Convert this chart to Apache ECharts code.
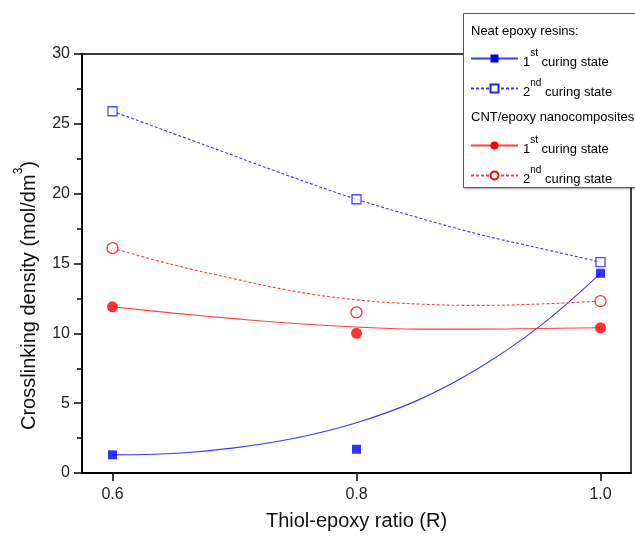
<!DOCTYPE html>
<html>
<head>
<meta charset="utf-8">
<script src="https://cdn.jsdelivr.net/npm/echarts@6/dist/echarts.min.js"></script>
<style>
  html, body { margin: 0; padding: 0; background: #fff; }
  #chart { width: 635px; height: 540px; }
</style>
</head>
<body>
<div id="chart"></div>
<script>
// measured points
const ratios = [0.6, 0.8, 1.0];
const neat1st = [1.3, 1.7, 14.3];
const neat2nd = [25.9, 19.6, 15.1];
const cnt1st = [11.9, 10.0, 10.4];
const cnt2nd = [16.1, 11.5, 12.3];

// fitted curves
const fitX = [0.6, 0.65, 0.7, 0.75, 0.8, 0.85, 0.9, 0.95, 1.0];
const fitNeat1st = [1.3, 1.4, 1.8, 2.5, 3.6, 5.2, 7.5, 10.5, 14.3];
const fitNeat2nd = [25.9, 24.3, 22.7, 21.1, 19.6, 18.3, 17.1, 16.1, 15.1];
const fitCnt1st = [11.9, 11.45, 11.05, 10.7, 10.45, 10.3, 10.3, 10.35, 10.4];
const fitCnt2nd = [16.1, 14.9, 13.9, 13.0, 12.4, 12.1, 12.0, 12.1, 12.3];

const xTicks = [0.6, 0.8, 1.0];

const FONT = '"Liberation Sans", Arial, sans-serif';
const BLUE = '#0000ff';
const RED = '#ff0000';

function pairs(xs, ys) {
  return xs.map((x, i) => [x, ys[i]]);
}

const chart = echarts.init(document.getElementById('chart'));

// one line series (fit) + one scatter series (points) per data set, same name
function group(name, xsFit, ysFit, ys, sym, size, filled, color, lineColor, dashed) {
  const itemStyle = filled
    ? { color: color }
    : { color: '#fff', borderColor: color, borderWidth: 1.3 };
  return [
    {
      name: name,
      type: 'line',
      data: pairs(xsFit, ysFit),
      smooth: 0.4,
      symbol: sym,
      symbolSize: size,
      showSymbol: false,
      itemStyle: itemStyle,
      lineStyle: { color: lineColor, width: 1.1, type: dashed ? [3, 2] : 'solid' },
      emphasis: { disabled: true },
      z: 2
    },
    {
      name: name,
      type: 'scatter',
      data: pairs(ratios, ys),
      symbol: sym,
      symbolSize: size,
      itemStyle: itemStyle,
      emphasis: { disabled: true },
      z: 3
    }
  ];
}

const legendRich = {
  n: { fontSize: 13, fontFamily: FONT, color: '#000', lineHeight: 13, padding: [8, 0, 0, 0] },
  sup: { fontSize: 10, fontFamily: FONT, color: '#000', lineHeight: 10, padding: [0, 0, 11, 0] }
};
// series names look like "1|st|neat": number, superscript, group
function legendFmt(name) {
  const parts = name.split('|');
  return '{n|' + parts[0] + '}{sup|' + parts[1] + '}{n| curing state}';
}
function makeLegend(names, top) {
  return {
    data: names,
    orient: 'vertical',
    left: 470,
    top: top,
    padding: 0,
    itemWidth: 47,
    itemHeight: 10,
    itemGap: 9,
    selectedMode: false,
    formatter: legendFmt,
    textStyle: { rich: legendRich },
    z: 6
  };
}

const N1 = '1|st|neat', N2 = '2|nd|neat', C1 = '1|st|cnt', C2 = '2|nd|cnt';

chart.setOption({
  animation: false,
  backgroundColor: '#fff',
  grid: {
    left: 82, right: 4, top: 54, bottom: 67,
    show: true, borderColor: '#000', borderWidth: 1.5, backgroundColor: 'transparent'
  },
  xAxis: {
    type: 'value',
    min: 0.575,
    max: 1.025,
    name: 'Thiol-epoxy ratio (R)',
    nameLocation: 'middle',
    nameGap: 38,
    nameTextStyle: { fontSize: 20, fontFamily: FONT, color: '#111' },
    axisLine: { lineStyle: { color: '#000', width: 1.8 } },
    axisTick: { show: true, inside: false, length: 8, lineStyle: { color: '#000', width: 1.5 }, customValues: xTicks },
    axisLabel: {
      fontSize: 16, fontFamily: FONT, color: '#222', margin: 14,
      customValues: xTicks,
      formatter: v => v.toFixed(1)
    },
    splitLine: { show: false }
  },
  yAxis: {
    type: 'value',
    min: 0,
    max: 30,
    interval: 5,
    name: '{a|Crosslinking density (mol/dm}{s|3}{a|)}',
    nameLocation: 'middle',
    nameGap: 46,
    nameTextStyle: {
      padding: [0, 64, 0, 0],
      rich: {
        a: { fontSize: 20, fontFamily: FONT, color: '#111', lineHeight: 20, padding: [7, 0, 0, 0] },
        s: { fontSize: 12, fontFamily: FONT, color: '#111', lineHeight: 12, padding: [0, 0, 15, 0] }
      }
    },
    axisLine: { show: true, lineStyle: { color: '#000', width: 1.8 } },
    axisTick: { show: true, inside: false, length: 8, lineStyle: { color: '#000', width: 1.5 } },
    minorTick: { show: true, splitNumber: 2, length: 5, lineStyle: { color: '#000', width: 1.5 } },
    axisLabel: { fontSize: 16, fontFamily: FONT, color: '#222', margin: 12 },
    splitLine: { show: false }
  },
  legend: [
    makeLegend([N1, N2], 48),
    makeLegend([C1, C2], 135)
  ],
  graphic: [
    {
      // legend box runs off the right edge of the picture
      type: 'rect',
      shape: { x: 463, y: 13, width: 200, height: 174 },
      style: { fill: '#fff', shadowBlur: 2, shadowOffsetX: 1, shadowOffsetY: 2, shadowColor: 'rgba(0,0,0,0.35)' },
      z: 5
    },
    {
      type: 'polyline',
      shape: { points: [[663, 13.5], [463.5, 13.5], [463.5, 187.5], [663, 187.5]] },
      style: { fill: null, stroke: '#555', lineWidth: 1 },
      z: 6
    },
    {
      type: 'text', x: 471, y: 25, z: 6,
      style: { text: 'Neat epoxy resins:', font: '13px ' + FONT, fill: '#000' }
    },
    {
      type: 'text', x: 471, y: 111, z: 6,
      style: { text: 'CNT/epoxy nanocomposites', font: '13px ' + FONT, fill: '#000' }
    }
  ],
  series: [].concat(
    group(N1, fitX, fitNeat1st, neat1st, 'rect', 9, true, BLUE, '#3a3aff', false),
    group(N2, fitX, fitNeat2nd, neat2nd, 'rect', 9, false, '#2020ff', '#3a3aff', true),
    group(C1, fitX, fitCnt1st, cnt1st, 'circle', 11, true, RED, '#ff4040', false),
    group(C2, fitX, fitCnt2nd, cnt2nd, 'circle', 11, false, RED, '#ff4040', true)
  )
});
</script>
</body>
</html>
